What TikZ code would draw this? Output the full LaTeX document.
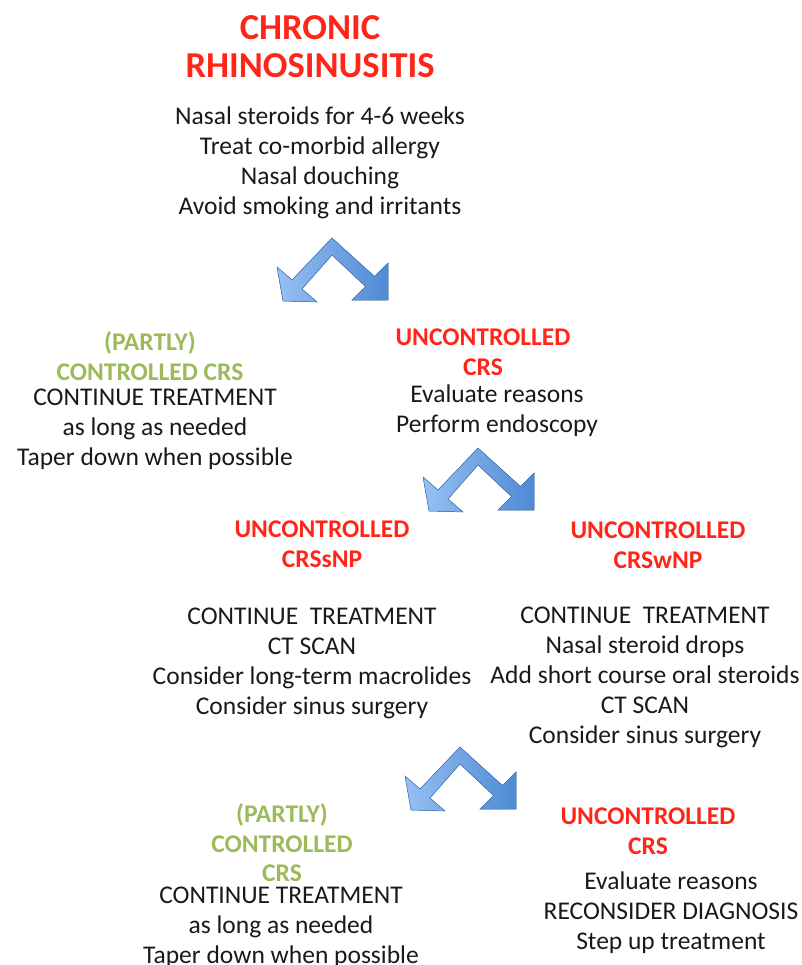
\documentclass[tikz,border=0pt]{standalone}
\usepackage{fontspec}
\setmainfont{Carlito}
\definecolor{crsred}{RGB}{255,38,25}
\definecolor{crsgreen}{RGB}{155,187,89}
\definecolor{forklight}{RGB}{150,192,242}
\definecolor{forkdark}{RGB}{78,138,212}
\tikzset{
  txt/.style={align=center, inner sep=0pt},
  body/.style={txt, text=black!90, font=\fontsize{25.5}{30}\selectfont},
  bad/.style={txt, text=crsred, font=\bfseries\fontsize{25.5}{29.5}\selectfont},
  good/.style={txt, text=crsgreen, font=\bfseries\fontsize{25.5}{29.5}\selectfont},
  % two-headed blue fork, apex at the origin, y grows downwards
  fork/.pic={
    \filldraw[left color=forklight, right color=forkdark, draw=forkdark!85!black, line width=0.5pt, line join=miter]
      (0,0) -- (-40,42) -- (-55,29) -- (-49,63) -- (-15,64) -- (-30,51)
      -- (0,17) -- (33.5,48.5) -- (20,62) -- (56,62) -- (56,25) -- (42.5,38.5) -- cycle;
  }
}
\begin{document}
\begin{tikzpicture}[x=1pt, y=-1pt]
    \useasboundingbox (0,0) rectangle (801,965);
    \clip (0,0) rectangle (801,965);
  % top of the chart
    \node[bad, font=\bfseries\fontsize{36.5}{38}\selectfont] (title) at (310,47) {CHRONIC\\RHINOSINUSITIS};
    \node[body] (first) at (320,163) {Nasal steroids for 4-6 weeks\\Treat co-morbid allergy\\Nasal douching\\Avoid smoking and irritants};
    \pic at (332,238) {fork};
  % first split
    \node[good] (ctrlA) at (150,356) {(PARTLY)\\CONTROLLED CRS};
    \node[body] (ctrlAtxt) at (155,429) {CONTINUE TREATMENT\\as long as needed\\Taper down when possible};
    \node[bad] (uncA) at (483,352) {UNCONTROLLED\\CRS};
    \node[body] (uncAtxt) at (497,411) {Evaluate reasons\\Perform endoscopy};
    \pic at (478,448) {fork};
  % with or without polyps
    \node[bad] (snp) at (322,544) {UNCONTROLLED\\CRSsNP};
    \node[body] (snptxt) at (312,663) {CONTINUE\ \ TREATMENT\\CT SCAN\\Consider long-term macrolides\\Consider sinus surgery};
    \node[bad] (wnp) at (658,545) {UNCONTROLLED\\CRSwNP};
    \node[body] (wnptxt) at (645,677) {CONTINUE\ \ TREATMENT\\Nasal steroid drops\\Add short course oral steroids\\CT SCAN\\Consider sinus surgery};
    \pic at (460,747) {fork};
  % last split
    \node[good] (ctrlB) at (282,843) {(PARTLY)\\CONTROLLED\\CRS};
    \node[body] (ctrlBtxt) at (281,927) {CONTINUE TREATMENT\\as long as needed\\Taper down when possible};
    \node[bad] (uncB) at (648,831) {UNCONTROLLED\\CRS};
    \node[body] (uncBtxt) at (671,913) {Evaluate reasons\\RECONSIDER DIAGNOSIS\\Step up treatment};
\end{tikzpicture}
\end{document}
